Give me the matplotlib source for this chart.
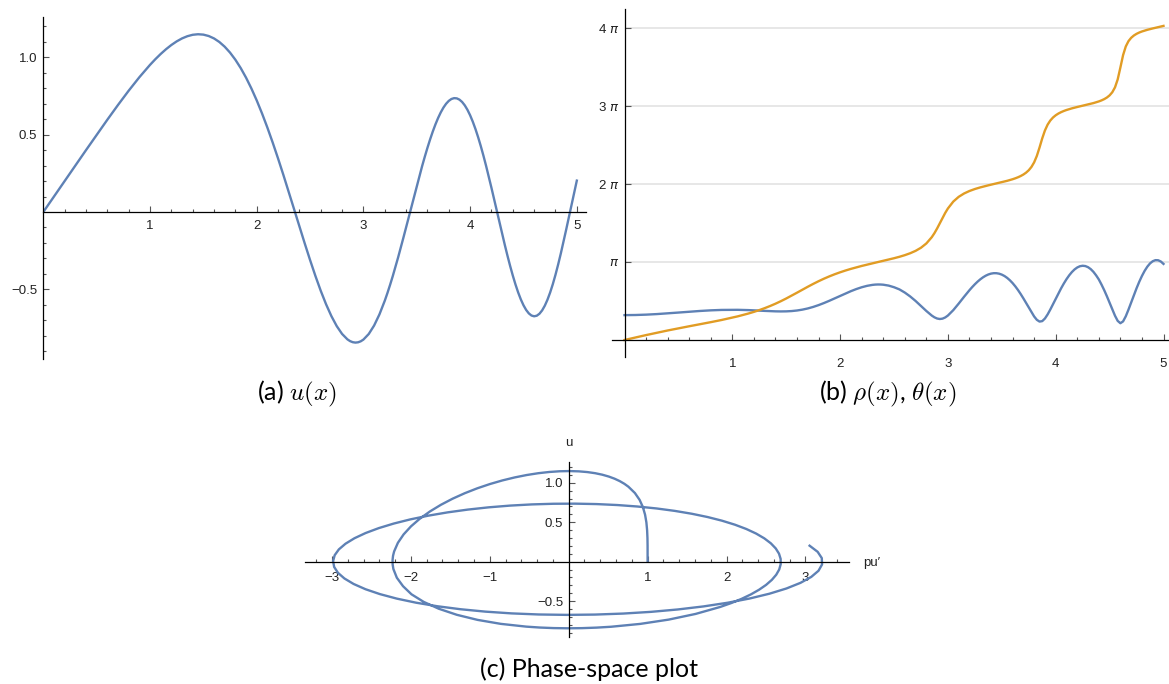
import matplotlib
matplotlib.use("Agg")
import matplotlib.pyplot as plt

# sample positions along x (denser where the curves turn quickly)
x_vals = [0.0, 0.1, 0.2, 0.3, 0.4, 0.5, 0.6, 0.7, 0.8, 0.9, 1.0,
          1.05, 1.1, 1.15, 1.2, 1.25, 1.3, 1.35, 1.4, 1.45, 1.5, 1.55, 1.6, 1.65, 1.7, 1.75,
          1.8, 1.85, 1.9, 1.95, 2.0,
          2.05, 2.1, 2.15, 2.2, 2.25, 2.3, 2.325, 2.35, 2.375, 2.4, 2.45, 2.5,
          2.55, 2.6, 2.65, 2.7, 2.75, 2.8, 2.85, 2.875, 2.9, 2.925, 2.95, 2.975, 3.0, 3.05,
          3.1, 3.15,
          3.2, 3.225, 3.25, 3.275, 3.3, 3.325, 3.35, 3.375, 3.4, 3.425, 3.45, 3.475, 3.5,
          3.525, 3.55, 3.575, 3.6, 3.625, 3.65, 3.675, 3.7, 3.725, 3.75,
          3.775, 3.8, 3.825, 3.85, 3.875, 3.9, 3.925, 3.95, 3.975, 4.0, 4.025, 4.05, 4.075,
          4.1, 4.125, 4.15, 4.175, 4.2, 4.225, 4.25, 4.275, 4.3, 4.325, 4.35, 4.375, 4.4,
          4.425, 4.45, 4.475, 4.5, 4.525, 4.55, 4.575, 4.6, 4.625, 4.65, 4.675, 4.7, 4.725,
          4.75,
          4.775, 4.8, 4.825, 4.85, 4.875, 4.9, 4.925, 4.95, 4.975, 5.0]

# u(x)
u_vals = [0.0, 0.1, 0.2, 0.2999, 0.3995, 0.4984, 0.5961, 0.6916, 0.7837, 0.8707, 0.9507,
          0.9873, 1.0211, 1.0518, 1.0791, 1.1025, 1.1216, 1.1359, 1.1451, 1.1486, 1.1462,
          1.1372, 1.1215, 1.0985, 1.0681, 1.03, 0.984, 0.9301, 0.8682, 0.7985, 0.7212,
          0.6366, 0.5455, 0.4483, 0.3459, 0.2394, 0.1299, 0.0744, 0.0186, -0.0372, -0.0929,
          -0.203, -0.3103,
          -0.413, -0.509, -0.5963, -0.673, -0.7375, -0.788, -0.823, -0.8344, -0.8414, -0.844,
          -0.8421, -0.8356, -0.8245, -0.7884, -0.734, -0.662,
          -0.5737, -0.5239, -0.4707, -0.4145, -0.3554, -0.294, -0.2305, -0.1654, -0.0991,
          -0.0322, 0.035, 0.102, 0.1681, 0.233, 0.296, 0.3567, 0.4146, 0.4691, 0.5198,
          0.5661, 0.6076, 0.6439, 0.6747,
          0.6995, 0.7181, 0.7303, 0.7357, 0.7343, 0.7261, 0.711, 0.689, 0.6603, 0.6251,
          0.5836, 0.5363, 0.4834, 0.4256, 0.3633, 0.2971, 0.2277, 0.1559, 0.0823, 0.0079,
          -0.0667, -0.1405, -0.2126, -0.2823, -0.3487, -0.4108, -0.468, -0.5195, -0.5645,
          -0.6025, -0.6329, -0.6552, -0.669, -0.674, -0.6702, -0.6574, -0.6358, -0.6054,
          -0.5667, -0.5202,
          -0.4663, -0.4057, -0.3393, -0.268, -0.1928, -0.1147, -0.0349, 0.0454, 0.1251, 0.2028]

# p u'(x)
pu_vals = [1.0, 1.0, 0.9996, 0.998, 0.9936, 0.9844, 0.9677, 0.9403, 0.8986, 0.8387, 0.7562,
           0.7053, 0.6472, 0.5816, 0.508, 0.4261, 0.3356, 0.2365, 0.1286, 0.0121, -0.1128,
           -0.2456, -0.3858, -0.5324, -0.6844, -0.8406, -0.9993, -1.1588, -1.3169, -1.4714,
           -1.6196,
           -1.7589, -1.8862, -1.9984, -2.0923, -2.1647, -2.2125, -2.2264, -2.2325, -2.2309,
           -2.2219, -2.1782, -2.0997,
           -1.9928, -1.8383, -1.6465, -1.418, -1.155, -0.8602, -0.5378, -0.3679, -0.1931,
           -0.0142, 0.1677, 0.3518, 0.5371, 0.9066, 1.2668, 1.6079,
           1.9195, 2.0609, 2.1911, 2.3087, 2.4125, 2.5014, 2.5742, 2.6299, 2.6677, 2.6865,
           2.6859, 2.6651, 2.6238, 2.5617, 2.4787, 2.3749, 2.2505, 2.1061, 1.9423, 1.76,
           1.5602, 1.3444, 1.1139,
           0.8705, 0.616, 0.3526, 0.0825, -0.1918, -0.4679, -0.7431, -1.0146, -1.2796,
           -1.5352, -1.7786, -2.0069, -2.2173, -2.4072, -2.574, -2.7154, -2.829, -2.9131,
           -2.9659, -2.986, -2.9725, -2.9248, -2.8425, -2.7259, -2.5755, -2.3925, -2.1783,
           -1.9349, -1.6648, -1.3706, -1.0558, -0.7239, -0.379, -0.0253, 0.3326, 0.6899,
           1.0417, 1.383, 1.7087, 2.0139,
           2.2939, 2.5439, 2.7598, 2.9376, 3.0739, 3.1658, 3.2109, 3.2076, 3.155, 3.0528]

# rho(x)
rho_vals = [1.0, 1.005, 1.0194, 1.0421, 1.0709, 1.1034, 1.1366, 1.1673, 1.1924, 1.2089,
            1.2148,
            1.2133, 1.2089, 1.2019, 1.1927, 1.182, 1.1707, 1.1603, 1.1523, 1.1487, 1.1517,
            1.1634, 1.186, 1.2208, 1.2686, 1.3295, 1.4025, 1.4859, 1.5773, 1.6741, 1.7729,
            1.8706, 1.9634, 2.048, 2.1207, 2.1779, 2.2163, 2.2276, 2.2325, 2.2312, 2.2238,
            2.1876, 2.1225,
            2.0352, 1.9075, 1.7511, 1.5696, 1.3703, 1.1666, 0.9832, 0.9119, 0.8633, 0.8441,
            0.8586, 0.9067, 0.984, 1.2014, 1.4641, 1.7389,
            2.0034, 2.1265, 2.2411, 2.3456, 2.4386, 2.5186, 2.5845, 2.6351, 2.6695, 2.6867,
            2.6861, 2.6671, 2.6292, 2.5723, 2.4963, 2.4015, 2.2884, 2.1577, 2.0106, 1.8488,
            1.6744, 1.4906, 1.3023,
            1.1167, 0.9461, 0.8109, 0.7403, 0.759, 0.8638, 1.0284, 1.2264, 1.4399, 1.6576,
            1.8719, 2.0773, 2.2694, 2.4446, 2.5996, 2.7316, 2.8382, 2.9172, 2.967, 2.986,
            2.9733, 2.9281, 2.8504, 2.7405, 2.599, 2.4344, 2.228, 2.0035, 1.7579, 1.4972,
            1.2309, 0.9764, 0.7689, 0.6745, 0.7482, 0.953, 1.2204, 1.5097, 1.8002, 2.08,
            2.3408, 2.5761, 2.7806, 2.9498, 3.08, 3.1679, 3.2111, 3.2079, 3.1574, 3.0596]

# theta(x) in radians
theta_vals = [0.0, 0.0997, 0.1975, 0.2919, 0.3823, 0.4687, 0.5521, 0.6342, 0.7172, 0.8042,
              0.8989,
              0.9505, 1.0059, 1.0657, 1.1308, 1.202, 1.28, 1.3655, 1.4589, 1.5603, 1.6689,
              1.7835, 1.9021, 2.0221, 2.1407, 2.2553, 2.3639, 2.4652, 2.5587, 2.6444, 2.7227,
              2.7943, 2.8601, 2.9209, 2.9777, 3.0314, 3.083, 3.1082, 3.1333, 3.1583, 3.1834,
              3.2345, 3.2883,
              3.346, 3.4117, 3.4891, 3.5847, 3.7099, 3.8832, 4.1336, 4.2971, 4.4868, 4.6955,
              4.909, 5.1109, 5.2898, 5.5674, 5.7581, 5.8926,
              5.9928, 6.0343, 6.0716, 6.1056, 6.1369, 6.1662, 6.1939, 6.2204, 6.246, 6.2712,
              6.2962, 6.3214, 6.3472, 6.3739, 6.4021, 6.4323, 6.4654, 6.5023, 6.5446, 6.5944,
              6.6545, 6.7299, 6.8278,
              6.9601, 7.145, 7.4041, 7.7423, 8.1095, 8.4264, 8.6615, 8.8281, 8.9484, 9.0381,
              9.1077, 9.1637, 9.2101, 9.2498, 9.2846, 9.3158, 9.3445, 9.3713, 9.397, 9.4221,
              9.4472, 9.4728, 9.4994, 9.528, 9.5593, 9.5948, 9.6364, 9.6871, 9.7517, 9.839,
              9.9648, 10.1604, 10.4802, 10.9581, 11.4563, 11.8051, 12.0184, 12.1537, 12.2461,
              12.3136,
              12.3658, 12.4082, 12.444, 12.4754, 12.5037, 12.5301, 12.5555, 12.5805, 12.606,
              12.6327]

PI = 3.141592653589793
pi_ticks = [PI, 2 * PI, 3 * PI, 4 * PI]
pi_labels = ['$\\pi$', '2 $\\pi$', '3 $\\pi$', '4 $\\pi$']

blue = '#5E81B5'
orange = '#E19C24'
lw = 1.7
tick_font = ['Liberation Sans', 'DejaVu Sans']
tick_size = 9.5
cap_size = 18

W, H = 1169, 684
fig = plt.figure(figsize=(W / 100, H / 100), dpi=100)
plt.rcParams['mathtext.fontset'] = 'cm'


def px_axes(x0, y0, x1, y1):
    return fig.add_axes([x0 / W, 1 - y1 / H, (x1 - x0) / W, (y1 - y0) / H])


def style_axes(ax, xpad, ypad):
    for side in ['top', 'right']:
        ax.spines[side].set_visible(False)
    for side in ['left', 'bottom']:
        ax.spines[side].set_position(('data', 0))
        ax.spines[side].set_color('black')
        ax.spines[side].set_linewidth(0.9)
    ax.set_facecolor('none')
    ax.tick_params(which='both', direction='in', color='#555555', width=0.8,
                   labelsize=tick_size, labelcolor='#222222')
    ax.tick_params(which='major', length=4)
    ax.tick_params(which='minor', length=2.3)
    ax.tick_params(axis='x', pad=xpad)
    ax.tick_params(axis='y', pad=ypad)
    for lab in ax.get_xticklabels() + ax.get_yticklabels():
        lab.set_fontfamily(tick_font)


def minor_list(lo, hi, step, major):
    # tick positions between lo and hi, leaving out the major ones
    vals = []
    n = int(round((hi - lo) / step))
    for i in range(n + 1):
        v = round(lo + i * step, 4)
        if abs(v / major - round(v / major)) > 1e-6:
            vals.append(v)
    return vals


# (a) u(x)
ax_a = px_axes(43.3, 16.7, 586, 359)
ax_a.plot(x_vals, u_vals, color=blue, lw=lw)
ax_a.set_xlim(0, 5.086)
ax_a.set_ylim(-0.950, 1.262)
ax_a.set_xticks([1, 2, 3, 4, 5], ['1', '2', '3', '4', '5'])
ax_a.set_xticks(minor_list(0, 5, 0.2, 1), minor=True)
ax_a.set_yticks([-0.5, 0.5, 1.0], ['\u22120.5', '0.5', '1.0'])
ax_a.set_yticks(minor_list(-0.9, 1.2, 0.1, 0.5), minor=True)
style_axes(ax_a, 6.0, 4.3)

# (b) rho(x), theta(x)
ax_b = px_axes(611.7, 9.3, 1169, 356.7)
ax_b.hlines(pi_ticks, 0, 5.1, color='#e3e3e3', lw=1.2, zorder=0)
ax_b.plot(x_vals, rho_vals, color=blue, lw=lw)
ax_b.plot(x_vals, theta_vals, color=orange, lw=lw)
ax_b.set_xlim(-0.119, 5.051)
ax_b.set_ylim(-0.672, 13.30)
ax_b.set_xticks([1, 2, 3, 4, 5], ['1', '2', '3', '4', '5'])
ax_b.set_xticks(minor_list(0, 5, 0.2, 1), minor=True)
ax_b.set_yticks(pi_ticks, pi_labels)
style_axes(ax_b, 13.0, 3.6)
for lab in ax_b.get_yticklabels():
    lab.set_math_fontfamily('dejavusans')

# (c) phase-space plot
ax_c = px_axes(305, 461.7, 849.3, 636.7)
ax_c.plot(pu_vals, u_vals, color=blue, lw=lw)
ax_c.set_xlim(-3.342, 3.556)
ax_c.set_ylim(-0.9506, 1.2674)
ax_c.set_xticks([-3, -2, -1, 1, 2, 3], ['\u22123', '\u22122', '\u22121', '1', '2', '3'])
ax_c.set_xticks(minor_list(-3.2, 3.4, 0.2, 1), minor=True)
ax_c.set_yticks([-0.5, 0.5, 1.0], ['\u22120.5', '0.5', '1.0'])
ax_c.set_yticks(minor_list(-0.9, 1.2, 0.1, 0.5), minor=True)
style_axes(ax_c, 7.5, 3.9)

fig.text(568.7 / W, 1 - 443 / H, 'u', ha='center', va='center',
         fontsize=tick_size, family=tick_font, color='#222222')
fig.text(863 / W, 1 - 563 / H, 'pu\u2032', ha='left', va='center',
         fontsize=tick_size, family=tick_font, color='#222222')

# captions
fig.text(296.5 / W, 1 - 394 / H, '(a) $u(x)$', ha='center', va='center',
         fontsize=cap_size, family='Lato')
fig.text(888 / W, 1 - 394 / H, '(b) $\\rho(x)$, $\\theta(x)$', ha='center', va='center',
         fontsize=cap_size, family='Lato')
fig.text(589 / W, 1 - 669 / H, '(c) Phase-space plot', ha='center', va='center',
         fontsize=cap_size, family='Lato')

fig.savefig('out.png', dpi=100)
